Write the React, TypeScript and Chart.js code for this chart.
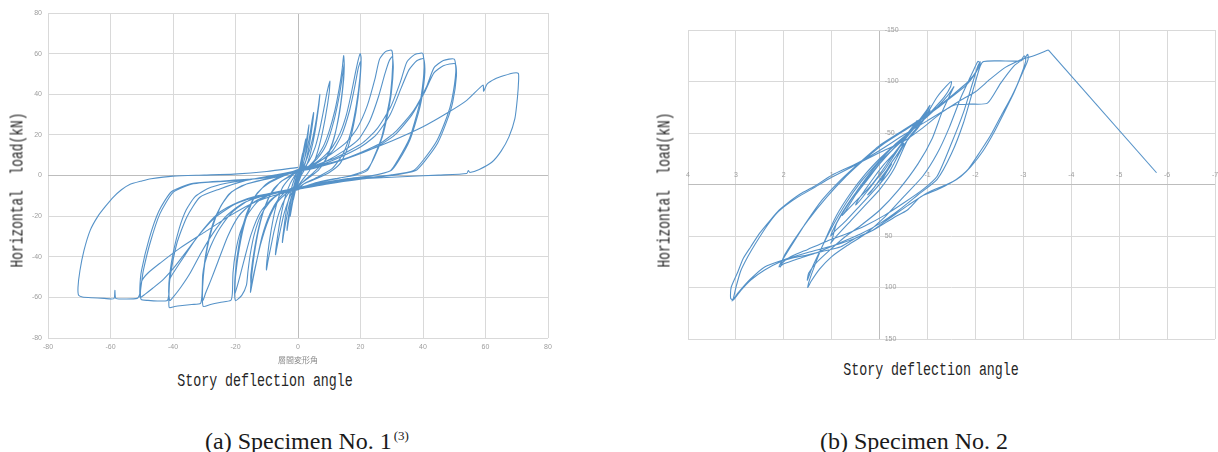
import React, { useEffect, useRef } from "react";
import { Chart, registerables } from "chart.js";

Chart.register(...registerables);

type Pt = [number, number];

// ---------------- Specimen No. 1 ----------------
const spec1XTicks = [-80, -60, -40, -20, 0, 20, 40, 60, 80];
const spec1YTicks = [-80, -60, -40, -20, 0, 20, 40, 60, 80];
const spec1XAxisName = "層間変形角";

const spec1Cycle01: Pt[] = [[0, 0], [0.8, 6], [1.5, 11], [1.2, 8], [0.4, 1], [-0.5, -5], [-1.5, -12], [-1.2, -9], [-0.3, -2], [0, 0]];
const spec1Cycle02: Pt[] = [[0.8, 4], [1.7, 12], [2.5, 18], [2.2, 14], [1.2, 5], [0.3, -1], [-0.8, -6], [-1.8, -14], [-2.5, -20], [-2.2, -16], [-1.2, -6], [-0.2, 0]];
const spec1Cycle03: Pt[] = [[1, 4], [2.2, 13], [3, 20], [3.5, 25], [3.2, 20], [2.2, 9], [1, 2], [0, -3], [-1, -7], [-2.3, -16], [-3.1, -23], [-3.5, -27], [-3.2, -22], [-2, -10], [-0.8, -2], [0, 1]];
const spec1Cycle04: Pt[] = [[1.2, 4], [2.6, 11], [3.8, 20], [4.5, 27], [5, 31], [4.7, 26], [3.6, 15], [2.3, 6], [1, 1], [0, -4], [-1.2, -7], [-2.6, -13], [-3.8, -22], [-4.6, -29], [-5, -33], [-4.7, -28], [-3.6, -16], [-2.2, -7], [-1, -1], [0, 2]];
const spec1Cycle05: Pt[] = [[1.5, 4], [3, 9], [4.5, 17], [5.8, 27], [6.6, 35], [7, 40], [6.7, 35], [5.5, 22], [4, 11], [2.5, 4], [1, 0], [0, -4], [-1.5, -7], [-3, -12], [-4.5, -19], [-5.8, -28], [-6.7, -35], [-7.2, -39], [-6.9, -34], [-5.6, -21], [-4, -10], [-2.5, -4], [-1, 0], [0, 2]];
const spec1Cycle06: Pt[] = [[1.5, 3], [3.5, 7], [5.5, 14], [7, 23], [8.3, 33], [9.3, 41], [10.2, 46.5], [10, 41], [8.8, 29], [7.2, 17], [5.5, 8], [3.5, 2], [1.5, -2], [0, -5], [-2, -7], [-4, -11], [-6, -18], [-7.6, -27], [-8.8, -36], [-9.6, -42], [-10.1, -46.5], [-9.8, -40], [-8.6, -27], [-7, -15], [-5, -6], [-2.5, -1], [0, 2.5]];
const spec1Cycle07: Pt[] = [[2, 3], [5, 7], [8, 14], [10, 22], [11.8, 32], [13.2, 43], [14.1, 52], [14.6, 59], [14.8, 54], [14.2, 42], [13, 29], [11.3, 17], [9, 8], [6.5, 2.5], [3.5, -1], [0, -5], [-3, -7], [-6, -11], [-9, -19], [-11.5, -30], [-13.2, -42], [-14.4, -51], [-15.2, -57.5], [-15, -52], [-14, -39], [-12.5, -26], [-10.5, -15], [-8, -7], [-5, -2.5], [-2, 0.5], [0, 2.5]];
const spec1Cycle08: Pt[] = [[3, 4], [6, 8], [9, 15], [11.5, 27], [13.3, 40], [14.3, 50], [14.8, 55], [14.6, 47], [13.3, 31], [11.2, 17], [8.5, 7], [5, 1.5], [2, -2.5], [0, -5.5], [-3, -8], [-6.5, -13], [-9.5, -22], [-12, -34], [-13.8, -46], [-15, -54], [-15.1, -49], [-13.8, -35], [-11.8, -21], [-9, -10], [-5.5, -3], [-2, 0], [0, 2]];
const spec1Cycle09: Pt[] = [[2, 3], [5, 5.5], [8, 9], [11, 14], [13.5, 21], [15.5, 30], [17, 40], [18.3, 50], [19.3, 57], [19.9, 60], [20.2, 58], [20, 50], [19.2, 38], [17.8, 25], [16, 14], [13.5, 6], [10, 1.5], [6, -1.5], [2, -4], [0, -6], [-3, -7], [-6, -9], [-9, -13], [-12, -20], [-14, -29], [-15.3, -39], [-16, -47], [-16.5, -54], [-18, -59], [-20, -61.6], [-20.3, -56], [-20, -47], [-19, -35], [-17.5, -24], [-15.5, -15], [-13, -8.5], [-9.5, -4], [-5, -0.5], [0, 2.5]];
const spec1Cycle10: Pt[] = [[3, 3.5], [7, 7], [11, 12], [14, 20], [16.5, 32], [18.2, 44], [19.3, 53], [20, 56], [19.8, 48], [18.7, 35], [17, 22], [14.5, 11], [11, 3.5], [6, -1], [2, -4], [0, -6.5], [-4, -8], [-8, -11], [-12, -18], [-15, -29], [-17.3, -42], [-19, -52], [-20.2, -58], [-20, -50], [-18.8, -36], [-16.8, -22], [-14, -11], [-10, -4], [-5, 0], [0, 3]];
const spec1Cycle11: Pt[] = [[3, 4.3], [9.3, 9.2], [15.6, 16.6], [19, 23.4], [22.2, 34.5], [24.6, 47.4], [26.1, 57.3], [28, 61], [30, 61.6], [30.3, 54.8], [29.6, 40], [28.5, 30.8], [26.7, 18.5], [24, 8], [22.2, 2.5], [18, 0], [12, -1.5], [6, -3.5], [2, -5.5], [0, -6.5], [-4, -7.5], [-9, -9.5], [-13, -13], [-16, -19], [-18.5, -28], [-20, -38], [-20.8, -48], [-21, -58], [-21.5, -61.5], [-25, -62.5], [-28, -63.5], [-30.3, -64.5], [-30.6, -60], [-30.3, -50], [-29.3, -38], [-27.5, -26], [-25, -16], [-22, -9], [-18, -5], [-12, -2.5], [-6, -0.5], [0, 2]];
const spec1Cycle12: Pt[] = [[3, 3], [9, 7], [15, 12.5], [19.5, 18], [23, 27], [25.8, 39], [27.8, 50], [29.2, 56.5], [30.2, 58.5], [30.5, 53], [29.9, 41], [28.8, 31], [27, 19], [24.3, 8.5], [22, 3], [17, 0], [11, -2], [5, -4], [0, -6.5], [-5, -8], [-10, -10], [-15, -14], [-19, -20], [-22.5, -30], [-25.5, -42], [-28, -52], [-29.6, -58], [-30.4, -61.5], [-30.7, -58], [-30.3, -48], [-29.2, -36], [-27.3, -24], [-24.7, -15], [-21.5, -8.5], [-17, -4.5], [-11, -2], [-5, 0], [0, 2]];
const spec1Cycle13: Pt[] = [[4, 4.2], [12.4, 9], [20.8, 16.2], [25.2, 22.8], [29.6, 33.6], [32.8, 46.2], [34.8, 55.8], [37.2, 59.4], [39.5, 60.3], [40, 60], [40.4, 53.4], [39.4, 39], [38, 30], [35.6, 18], [32, 7.8], [29.6, 2.4], [24, 0], [16, -1.5], [8, -3.5], [3, -5], [0, -6], [-5, -7.5], [-11, -9.5], [-16, -12.5], [-21, -18], [-25, -26], [-28, -35], [-29.8, -43], [-30.5, -49], [-30.7, -58], [-31.2, -63], [-34, -63.5], [-37, -64], [-39.5, -64.5], [-41.2, -65], [-41.3, -60], [-41, -51], [-38.8, -33.6], [-35.6, -20.5], [-31.4, -10.7], [-25, -6.6], [-18, -3], [-10, -0.5], [0, 2]];
const spec1Cycle14: Pt[] = [[4, 3.5], [12, 8], [20, 14], [25, 20], [29.5, 30], [33, 43], [35.5, 52], [38, 56.5], [40.2, 57.5], [40.6, 51], [39.6, 38], [38.2, 29], [35.8, 17.5], [32.3, 7.5], [29.8, 2.5], [23, -0.3], [15, -2], [7, -4], [0, -6.5], [-6, -8.3], [-12, -10.5], [-18, -14], [-23, -20], [-27, -28], [-31, -38], [-34.5, -48], [-37.5, -55], [-40, -60], [-41, -61.5], [-41.4, -57], [-41, -48], [-39.8, -37], [-38, -26], [-35.8, -17], [-33, -10.5], [-29, -6.5], [-23, -3.8], [-15, -1.8], [-7, 0], [0, 2]];
const spec1Cycle15: Pt[] = [[5, 4], [15.5, 8.5], [26, 15.5], [31.5, 22], [37, 32], [41.2, 44], [43.5, 53], [46.5, 56.6], [50, 57.3], [50.5, 51], [49.2, 37], [47.6, 28.7], [44.4, 17], [40, 7.4], [37, 2.5], [30, 0.3], [20, -1.5], [10, -3.5], [3, -5.5], [0, -6.5], [-6, -8], [-13, -10], [-19, -13], [-25, -18], [-29.5, -25], [-33, -32], [-36.5, -40], [-39.5, -47], [-41, -51], [-41.3, -58], [-41.8, -61.5], [-45, -61.8], [-48, -61.5], [-50.2, -61], [-50.4, -57], [-50, -52], [-49.5, -46.8], [-47.4, -33.6], [-44.2, -18.9], [-39.9, -8.2], [-33.5, -4.1], [-22.8, -2.8], [-12.2, -1.5], [-4, 0.5], [0, 2]];
const spec1Cycle16: Pt[] = [[5, 3.5], [15, 8], [25, 14], [31, 20], [36.5, 30], [40.5, 41], [43.5, 50.5], [46.5, 54], [50.3, 55], [50.7, 49], [49.5, 36], [47.8, 27.5], [44.7, 16], [40.5, 7], [37.5, 2.3], [30, 0], [20, -1.8], [10, -4], [0, -6.8], [-6, -8.5], [-13, -10.5], [-20, -14], [-26, -20], [-31, -28], [-35.5, -37], [-39.5, -45], [-43, -51], [-46.5, -55.5], [-49, -58.5], [-50.5, -60], [-50.6, -55], [-50.1, -47], [-47.6, -31], [-44.5, -17.5], [-40.5, -8], [-34, -4], [-23, -2.6], [-12, -1.2], [0, 2.5]];
const spec1Cycle17: Pt[] = [[10, 6], [20, 11], [30, 17], [40, 24], [48, 31], [54, 37], [59.2, 44.5], [59.4, 41.5], [60.5, 45], [63, 47.5], [66, 49.2], [69, 50.5], [70.5, 50.3], [70.6, 47], [70.2, 38], [69.4, 28], [67.5, 19], [65, 12], [62, 6.5], [58, 3], [55, 1.5], [54.5, 2.5], [54, 1], [45, 0.2], [35, -0.5], [25, -1.2], [15, -2.2], [8, -3.5], [3, -5.5], [0, -7], [-3, -8], [-8, -10], [-15, -14], [-22, -20], [-30, -28], [-38, -36], [-44, -43], [-48, -48], [-50, -52], [-50.6, -58], [-51.5, -60.5], [-56, -60.8], [-58.3, -60.5], [-58.6, -56.5], [-58.9, -60.6], [-62, -60.5], [-66, -60.2], [-69, -59.8], [-70.2, -59], [-70.4, -55], [-69.8, -47], [-68.5, -37], [-66.5, -27], [-64, -20], [-61.5, -15], [-59, -10.5], [-56.5, -7], [-54, -4.5], [-50, -2.7], [-47, -1.6], [-40, -0.3], [-30, 0.2], [-20.5, 0.7], [-10, 2], [0, 4]];

const spec1Cycles: Pt[][] = [
  spec1Cycle01, spec1Cycle02, spec1Cycle03, spec1Cycle04, spec1Cycle05, spec1Cycle06,
  spec1Cycle07, spec1Cycle08, spec1Cycle09, spec1Cycle10, spec1Cycle11, spec1Cycle12,
  spec1Cycle13, spec1Cycle14, spec1Cycle15, spec1Cycle16, spec1Cycle17,
];

// ---------------- Specimen No. 2 ----------------
const spec2XTicks = [4, 3, 2, 1, 0, -1, -2, -3, -4, -5, -6, -7];
const spec2YGrid = [-150, -100, -50, 0, 50, 100, 150];
const spec2YLabels = [-150, -100, -50, 50, 100, 150];

const spec2Cycle01: Pt[] = [[0, 0], [-0.12, -10], [-0.25, -20], [-0.2, -17], [-0.05, -8], [0.1, 2], [0.25, 10], [0.2, 8], [0.05, -1], [-0.05, -6]];
const spec2Cycle02: Pt[] = [[-0.2, -18], [-0.38, -30], [-0.5, -40], [-0.45, -38], [-0.3, -30], [-0.1, -20], [0.1, -8], [0.3, 5], [0.45, 15], [0.5, 20], [0.42, 16], [0.25, 6], [0.05, -6], [-0.1, -14]];
const spec2Cycle03: Pt[] = [[-0.3, -28], [-0.5, -42], [-0.7, -55], [-0.78, -62], [-0.72, -58], [-0.5, -45], [-0.25, -33], [0, -20], [0.25, -5], [0.5, 10], [0.7, 25], [0.78, 30], [0.7, 26], [0.45, 14], [0.2, 2], [0, -10]];
const spec2Cycle04: Pt[] = [[-0.3, -30], [-0.6, -48], [-0.85, -62], [-1, -72], [-1.05, -77], [-0.98, -72], [-0.75, -58], [-0.45, -42], [-0.15, -28], [0.15, -12], [0.45, 5], [0.75, 25], [0.95, 42], [1.02, 50], [0.95, 46], [0.7, 35], [0.4, 20], [0.1, 5], [-0.2, -12]];
const spec2Cycle05: Pt[] = [[-0.5, -38], [-0.8, -55], [-1, -68], [-1.05, -72], [-0.9, -65], [-0.6, -48], [-0.3, -35], [0, -22], [0.3, -5], [0.6, 15], [0.9, 38], [1, 55], [1.02, 57], [0.9, 50], [0.6, 35], [0.3, 20], [0, 5], [-0.3, -15]];
const spec2Cycle06: Pt[] = [[-0.6, -45], [-0.9, -62], [-1.2, -85], [-1.4, -96], [-1.5, -100], [-1.48, -95], [-1.35, -85], [-1.1, -72], [-0.8, -58], [-0.5, -45], [-0.2, -33], [0.1, -18], [0.4, -2], [0.7, 18], [1, 42], [1.25, 65], [1.42, 82], [1.51, 93], [1.48, 86], [1.3, 75], [1, 62], [0.7, 50], [0.4, 40], [0, 25], [-0.4, 5], [-0.8, -20]];
const spec2Cycle07: Pt[] = [[-1.1, -45], [-1.3, -70], [-1.5, -90], [-1.55, -95], [-1.45, -88], [-1.2, -75], [-0.9, -62], [-0.6, -50], [-0.3, -38], [0, -25], [0.3, -10], [0.6, 8], [0.9, 30], [1.15, 55], [1.35, 78], [1.48, 95], [1.5, 100], [1.43, 94], [1.25, 82], [1, 70], [0.7, 60], [0.3, 48], [-0.1, 32], [-0.5, 12], [-0.9, -8]];
const spec2Cycle08: Pt[] = [[-1.2, -30], [-1.45, -55], [-1.7, -85], [-1.9, -105], [-2, -115], [-2.05, -119.5], [-2.1, -118], [-2, -108], [-1.8, -96], [-1.5, -85], [-1.2, -74], [-0.9, -64], [-0.5, -52], [-0.1, -40], [0.3, -25], [0.7, -8], [1.1, 12], [1.5, 35], [1.8, 55], [2, 70], [2.07, 80], [2.03, 76], [1.85, 70], [1.5, 63], [1.1, 55], [0.7, 48], [0.3, 40], [-0.1, 30], [-0.5, 18], [-0.9, 5], [-1.2, -8]];
const spec2Cycle09: Pt[] = [[-1.5, -40], [-1.75, -70], [-1.95, -100], [-2.05, -115], [-2.1, -119], [-2.05, -112], [-1.85, -100], [-1.55, -88], [-1.2, -75], [-0.8, -62], [-0.4, -50], [0, -38], [0.4, -22], [0.8, -5], [1.2, 15], [1.55, 38], [1.85, 60], [2.05, 75], [2.1, 80], [2, 77], [1.7, 72], [1.3, 66], [0.9, 58], [0.4, 48], [0, 38], [-0.4, 25], [-0.8, 10], [-1.2, -5]];
const spec2Cycle10: Pt[] = [[-1.5, -30], [-1.75, -60], [-1.97, -95], [-2.1, -115], [-2.17, -119.5], [-2.5, -120], [-2.94, -120], [-3.05, -124], [-3.09, -126.4], [-3.1, -122], [-3.08, -119], [-2.95, -105], [-2.8, -88.8], [-2.6, -70], [-2.38, -50], [-2.15, -32], [-1.9, -17], [-1.7, -8], [-1.48, -1.4], [-1.2, 5], [-0.86, 11.8], [-0.58, 24.8], [-0.3, 32], [0.12, 44], [0.5, 52], [0.81, 60.4], [1.2, 65], [1.51, 68.5], [1.8, 71], [2.07, 75], [2.4, 83], [2.69, 92.7], [2.9, 103], [3.05, 112], [3.11, 110.5], [3.1, 100], [2.97, 86], [2.85, 72], [2.69, 60.4], [2.5, 47], [2.28, 34.5], [2.1, 25], [1.93, 18.3], [1.65, 9], [1.37, 2], [0.99, -9.2], [0.47, -20.6], [0, -33], [-0.5, -48]];
const spec2Cycle11: Pt[] = [[-1, -62], [-1.55, -77], [-1.9, -78], [-2.25, -79], [-2.52, -98], [-2.8, -115], [-2.94, -120], [-3.02, -125], [-3.05, -120], [-2.9, -100], [-2.75, -85], [-2.55, -68], [-2.32, -48], [-2.1, -32], [-1.85, -15], [-1.6, -5], [-1.4, 0], [-1, 8], [-0.6, 20], [-0.2, 33], [0.2, 46], [0.8, 57], [1.5, 66], [2, 73], [2.4, 80], [2.7, 92], [2.95, 105], [3.08, 113], [3.05, 110], [3, 100], [2.9, 84], [2.75, 70], [2.6, 58], [2.35, 40], [2.15, 28], [1.95, 20], [1.7, 12], [1.4, 4], [1, -7], [0.5, -19], [0, -31]];
const spec2Final: Pt[] = [[-0.5, -42], [-0.9, -55], [-1.3, -70], [-1.7, -82], [-2, -90], [-2.3, -102], [-2.6, -113], [-2.85, -119], [-3, -122], [-3.15, -124], [-3.52, -130.6]];
const spec2Drop: Pt[] = [[-3.52, -130.6], [-5.78, -11.4]];

const spec2Cycles: Pt[][] = [
  spec2Cycle01, spec2Cycle02, spec2Cycle03, spec2Cycle04, spec2Cycle05, spec2Cycle06,
  spec2Cycle07, spec2Cycle08, spec2Cycle09, spec2Cycle10, spec2Cycle11, spec2Final,
];

// ---------------- Styling ----------------
const BLUE = "#5592c8";
const GRID = "#d9d9d9";
const ZERO = "#bdbdbd";
const TICK_COLOR = "#9d9d9d";

const gridColor = (c: any) => (c.tick && c.tick.value === 0 ? ZERO : GRID);
const toPoints = (cycles: Pt[][]) => cycles.flat().map(([x, y]) => ({ x, y }));

function Spec1Chart() {
  const ref = useRef<HTMLCanvasElement>(null);
  useEffect(() => {
    const chart = new Chart(ref.current as HTMLCanvasElement, {
      type: "scatter",
      data: {
        datasets: [
          {
            data: toPoints(spec1Cycles),
            showLine: true,
            borderColor: BLUE,
            borderWidth: 1.1,
            pointRadius: 0,
            tension: 0.2,
            fill: false,
          },
        ],
      },
      options: {
        animation: false,
        responsive: false,
        devicePixelRatio: 1,
        layout: { padding: { left: 0, right: 12, top: 13, bottom: 0 } },
        plugins: { legend: { display: false }, tooltip: { enabled: false } },
        scales: {
          x: {
            type: "linear",
            min: -80,
            max: 80,
            afterBuildTicks: (s: any) => {
              s.ticks = spec1XTicks.map((v) => ({ value: v }));
            },
            afterFit: (s: any) => {
              s.height = 30;
              s.paddingLeft = 0;
              s.paddingRight = 0;
            },
            grid: { color: gridColor, drawTicks: false, lineWidth: 1 },
            border: { display: false },
            ticks: { color: TICK_COLOR, font: { size: 7, family: "Liberation Sans" }, padding: 5, maxRotation: 0, autoSkip: false },
            title: {
              display: true,
              text: spec1XAxisName,
              color: "#8a8a8a",
              font: { size: 8, family: "Noto Sans CJK JP" },
              padding: { top: 1, bottom: 3 },
            },
          },
          y: {
            type: "linear",
            min: -80,
            max: 80,
            afterBuildTicks: (s: any) => {
              s.ticks = spec1YTicks.map((v) => ({ value: v }));
            },
            afterFit: (s: any) => {
              s.width = 48;
              s.paddingTop = 0;
              s.paddingBottom = 0;
            },
            grid: { color: gridColor, drawTicks: false, lineWidth: 1 },
            border: { display: false },
            ticks: { color: TICK_COLOR, font: { size: 7, family: "Liberation Sans" }, padding: 6 },
          },
        },
      },
    } as any);
    return () => chart.destroy();
  }, []);
  return (
    <canvas
      ref={ref}
      width={560}
      height={368}
      style={{ position: "absolute", left: 0, top: 0, width: 560, height: 368 }}
    />
  );
}

const spec2LabelPlugin = {
  id: "spec2Labels",
  afterDatasetsDraw(chart: any) {
    const { ctx, scales } = chart;
    const xs = scales.x;
    const ys = scales.y;
    ctx.save();
    ctx.font = '7px "Liberation Sans"';
    ctx.fillStyle = TICK_COLOR;
    ctx.textAlign = "center";
    ctx.textBaseline = "middle";
    const y0 = ys.getPixelForValue(0);
    for (const v of spec2XTicks) ctx.fillText(String(v), xs.getPixelForValue(v), y0 - 9);
    ctx.textAlign = "left";
    const x0 = xs.getPixelForValue(0);
    for (const v of spec2YLabels) ctx.fillText(String(v), x0 + 5, ys.getPixelForValue(v));
    ctx.restore();
  },
};

function Spec2Chart() {
  const ref = useRef<HTMLCanvasElement>(null);
  useEffect(() => {
    const chart = new Chart(ref.current as HTMLCanvasElement, {
      type: "scatter",
      data: {
        datasets: [
          {
            data: toPoints(spec2Cycles),
            showLine: true,
            borderColor: BLUE,
            borderWidth: 1.1,
            pointRadius: 0,
            tension: 0.2,
            fill: false,
          },
          {
            data: toPoints([spec2Drop]),
            showLine: true,
            borderColor: BLUE,
            borderWidth: 1.1,
            pointRadius: 0,
            tension: 0,
            fill: false,
          },
        ],
      },
      options: {
        animation: false,
        responsive: false,
        devicePixelRatio: 1,
        layout: { padding: { left: 48, right: 3, top: 30, bottom: 13 } },
        plugins: { legend: { display: false }, tooltip: { enabled: false } },
        scales: {
          x: {
            type: "linear",
            min: -7,
            max: 4,
            reverse: true,
            afterBuildTicks: (s: any) => {
              s.ticks = spec2XTicks.map((v) => ({ value: v }));
            },
            afterFit: (s: any) => {
              s.height = 0;
              s.paddingLeft = 0;
              s.paddingRight = 0;
            },
            grid: { color: gridColor, drawTicks: false, lineWidth: 1 },
            border: { display: false },
            ticks: { display: false },
          },
          y: {
            type: "linear",
            min: -150,
            max: 150,
            reverse: true,
            afterBuildTicks: (s: any) => {
              s.ticks = spec2YGrid.map((v) => ({ value: v }));
            },
            afterFit: (s: any) => {
              s.width = 0;
              s.paddingTop = 0;
              s.paddingBottom = 0;
            },
            grid: { color: gridColor, drawTicks: false, lineWidth: 1 },
            border: { display: false },
            ticks: { display: false },
          },
        },
      },
      plugins: [spec2LabelPlugin],
    } as any);
    return () => chart.destroy();
  }, []);
  return (
    <canvas
      ref={ref}
      width={578}
      height={352}
      style={{ position: "absolute", left: 640, top: 0, width: 578, height: 352 }}
    />
  );
}

const monoText: React.CSSProperties = {
  position: "absolute",
  fontFamily: '"Liberation Mono", "DejaVu Sans Mono", monospace',
  fontSize: 19,
  color: "#262626",
  whiteSpace: "pre",
  lineHeight: 1,
};

const captionText: React.CSSProperties = {
  position: "absolute",
  fontFamily: '"Liberation Serif", "DejaVu Serif", serif',
  fontSize: 24,
  color: "#1a1a1a",
  whiteSpace: "pre",
  lineHeight: 1,
  transform: "translate(-50%, -50%)",
};

export default function App() {
  return (
    <div style={{ position: "absolute", left: 0, top: 0, width: 1218, height: 452, background: "#fff", overflow: "hidden" }}>
      <Spec1Chart />
      <Spec2Chart />
      <div style={{ ...monoText, left: 18, top: 190, transform: "translate(-50%, -50%) rotate(-90deg) scaleX(0.68)" }}>
        {"Horizontal  load(kN)"}
      </div>
      <div style={{ ...monoText, left: 665, top: 190, transform: "translate(-50%, -50%) rotate(-90deg) scaleX(0.68)" }}>
        {"Horizontal  load(kN)"}
      </div>
      <div style={{ ...monoText, left: 265, top: 381, transform: "translate(-50%, -50%) scaleX(0.7)" }}>
        Story deflection angle
      </div>
      <div style={{ ...monoText, left: 931, top: 370, transform: "translate(-50%, -50%) scaleX(0.7)" }}>
        Story deflection angle
      </div>
      <div style={{ ...captionText, left: 307, top: 441 }}>
        (a) Specimen No. 1
        <span style={{ fontSize: 13, position: "relative", top: -9, marginLeft: 2 }}>(3)</span>
      </div>
      <div style={{ ...captionText, left: 914, top: 441 }}>(b) Specimen No. 2</div>
    </div>
  );
}
